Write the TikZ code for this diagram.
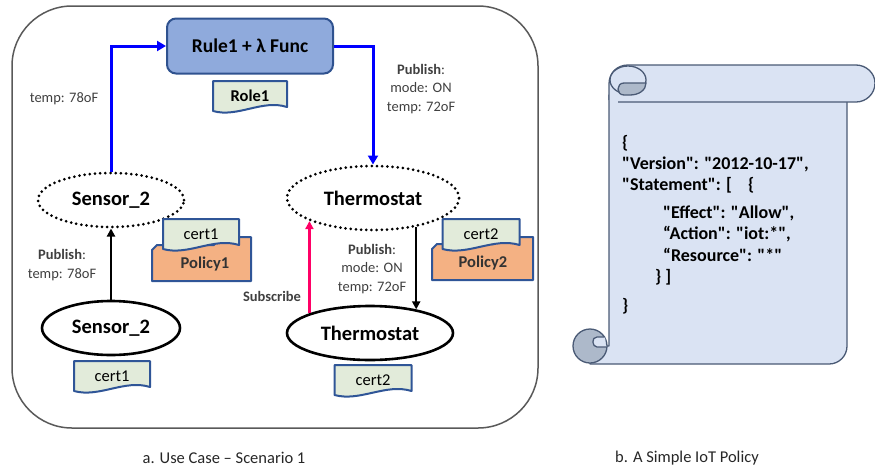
\documentclass[tikz,border=0pt]{standalone}
\usepackage{fontspec}
\setmainfont{Carlito}
% policy text keeps its straight quotes
\newfontfamily\jsonfont{Carlito}[Ligatures=TeXOff]
\usetikzlibrary{arrows.meta,shapes.geometric}

\definecolor{rulefill}{HTML}{8FAADC}
\definecolor{ruleline}{HTML}{2F528F}
\definecolor{tagfill}{HTML}{E2EBDA}
\definecolor{tagline}{HTML}{2F5597}
\definecolor{polfill}{HTML}{F4B183}
\definecolor{labelgrey}{HTML}{404040}
\definecolor{frameline}{HTML}{595959}
\definecolor{scrollfill}{HTML}{DAE3F3}
\definecolor{scrollline}{HTML}{4A5A75}
\definecolor{curlfill}{HTML}{ADB9CA}
\definecolor{subpink}{HTML}{FF0066}
\definecolor{pubblue}{HTML}{0000FF}

\tikzset{
  pubarrow/.style={draw=pubblue, line width=3pt, -{Triangle[length=9pt,width=10pt]}},
  msgarrow/.style={draw=black, line width=2.2pt, -{Triangle[length=8pt,width=8pt]}},
  subarrow/.style={draw=subpink, line width=2.2pt, -{Triangle[length=8pt,width=8pt]}},
  dotnode/.style={ellipse, draw, line width=3pt, dash pattern=on 0pt off 5.2pt,
    line cap=round, inner sep=0pt, font=\bfseries\fontsize{20.5}{20.5}\selectfont},
  devnode/.style={ellipse, draw, line width=2.6pt, fill=white, inner sep=0pt,
    font=\bfseries\fontsize{20.5}{20.5}\selectfont},
  rulebox/.style={draw=ruleline, fill=rulefill, line width=2pt, rounded corners=9pt,
    minimum width=166pt, minimum height=55pt, font=\bfseries\fontsize{19.5}{19.5}\selectfont},
  tagshape/.style={fill=tagfill, draw=tagline, line width=2pt, line join=round},
  tagtext/.style={inner sep=0pt, font=\fontsize{16.5}{16.5}\selectfont},
  roletext/.style={inner sep=0pt, font=\bfseries\fontsize{16.5}{16.5}\selectfont},
  polshape/.style={fill=polfill, draw=tagline, line width=2pt, line join=round},
  poltext/.style={inner sep=0pt, text=black!80, font=\bfseries\fontsize{16.5}{16.5}\selectfont},
  msglabel/.style={align=center, inner sep=0pt, text=labelgrey,
    font=\fontsize{14.5}{18.5}\selectfont},
  caption/.style={inner sep=0pt, text=black!85, font=\fontsize{16.5}{16.5}\selectfont},
  scroll/.style={fill=scrollfill, draw=scrollline, line width=1.3pt, line join=round},
  curl/.style={fill=curlfill, draw=scrollline, line width=1.3pt, line join=round},
  jsonline/.style={anchor=west, inner sep=0pt, font=\jsonfont\bfseries\fontsize{18}{18}\selectfont},
}

% tag with a wavy lower edge: name, centre x, centre y, width, text, text style
\newcommand\doctag[6]{%
  \filldraw[tagshape] ({#2-#4/2},{#3-15}) -- ({#2+#4/2},{#3-15}) -- ({#2+#4/2},{#3+11})
    .. controls ({#2+#4/6},{#3+3}) and ({#2-#4/6},{#3+22}) .. ({#2-#4/2},{#3+15}) -- cycle;
  \node[#6] (#1) at (#2,#3) {#5};
}

\begin{document}
\begin{tikzpicture}[x=1pt,y=-1pt]
\useasboundingbox (0,0) rectangle (875,472);

% ---------- use case frame ----------
\draw[frameline, line width=1.5pt, rounded corners=60pt] (12,6) rectangle (538,428);

% rule and its role
\node[rulebox] (rule) at (250,46) {Rule1 + λ Func};
\doctag{role}{250}{96}{74}{Role1}{roletext}

% devices seen by the cloud (shadows)
\node[dotnode, minimum width=146pt, minimum height=54pt] (ds) at (111,200) {Sensor\_2};
\node[dotnode, minimum width=172pt, minimum height=64pt] (dt) at (373,198) {Thermostat};

% physical devices
\node[devnode, minimum width=138pt, minimum height=54pt] (ss) at (111,328) {Sensor\_2};
\node[devnode, minimum width=166pt, minimum height=54pt] (st) at (370,333) {Thermostat};

% policy folders with attached certificates
\filldraw[polshape] (152,281) -- (152,250) -- (157,245) -- (214,245) -- (219,237)
  -- (251,237) -- (251,281) -- cycle;
\node[poltext] (pol1) at (205,264) {Policy1};
\doctag{certa}{201}{234}{76}{cert1}{tagtext}

\filldraw[polshape] (432,280) -- (432,249) -- (437,244) -- (494,244) -- (499,237)
  -- (533,237) -- (533,280) -- cycle;
\node[poltext] (pol2) at (483,263) {Policy2};
\doctag{certb}{481}{234}{77}{cert2}{tagtext}

% certificates held by the devices
\doctag{certc}{112}{376}{76}{cert1}{tagtext}
\doctag{certd}{373}{380}{77}{cert2}{tagtext}

% message flows
\draw[pubarrow] (ds.north) |- (rule.west);
\draw[pubarrow] (rule.east) -| (dt.north);
\draw[msgarrow] (ss.north) -- (ds.south);
\draw[subarrow] (st.162) -- (st.162 |- dt.200);
\draw[msgarrow] (dt.-34) -- (dt.-34 |- st.27);

% flow labels
\node[msglabel] (l1) at (64,99) {temp: 78oF};
\node[msglabel] (l2) at (421,89) {\textbf{Publish}:\\mode: ON\\temp: 72oF};
\node[msglabel] (l3) at (62,265) {\textbf{Publish}:\\temp: 78oF};
\node[msglabel, font=\bfseries\fontsize{14.5}{18.5}\selectfont] (l4) at (272,296) {Subscribe};
\node[msglabel] (l5) at (372,269) {\textbf{Publish}:\\mode: ON\\temp: 72oF};

% ---------- policy scroll ----------
\filldraw[scroll] (609,95) -- (609,346) -- (590,346) -- (590,364) -- (829,364)
  .. controls (839,364) and (847,356) .. (847,346) -- (847,95) -- cycle;
\filldraw[scroll] (609,100) -- (609,84) .. controls (609,73) and (617,65) .. (628,65)
  -- (856,65) .. controls (866,65) and (875,73) .. (875,83)
  .. controls (875,94) and (866,102) .. (856,102) -- (618,102);
\filldraw[scroll] (628,80) ellipse [x radius=18pt, y radius=14pt];
\filldraw[curl] (646,83) .. controls (646,90) and (639,95) .. (630,95) -- (624,95)
  .. controls (620,95) and (618,92) .. (618,89) .. controls (618,86) and (620,83) .. (624,83) -- cycle;
\filldraw[curl] (590,346) circle (17pt);
\filldraw[scroll] (606,347) -- (597,347) .. controls (592,347) and (591,337) .. (597,337) -- (605,337);

\node[jsonline] (j1) at (622,143) {\{};
\node[jsonline] (j2) at (622,164) {"Version": "2012-10-17",};
\node[jsonline] (j3) at (622,185) {"Statement": [\hspace{16pt}\{};
\node[jsonline] (j4) at (663,213) {"Effect": "Allow",};
\node[jsonline] (j5) at (663,234) {“Action": "iot:*",};
\node[jsonline] (j6) at (663,255) {“Resource": "*"};
\node[jsonline] (j7) at (655,277) {\} ]};
\node[jsonline] (j8) at (622,306) {\}};

% ---------- captions ----------
\node[caption] (capa) at (224,458) {a. Use Case – Scenario 1};
\node[caption] (capb) at (687,458) {b. A Simple IoT Policy};
\end{tikzpicture}
\end{document}
